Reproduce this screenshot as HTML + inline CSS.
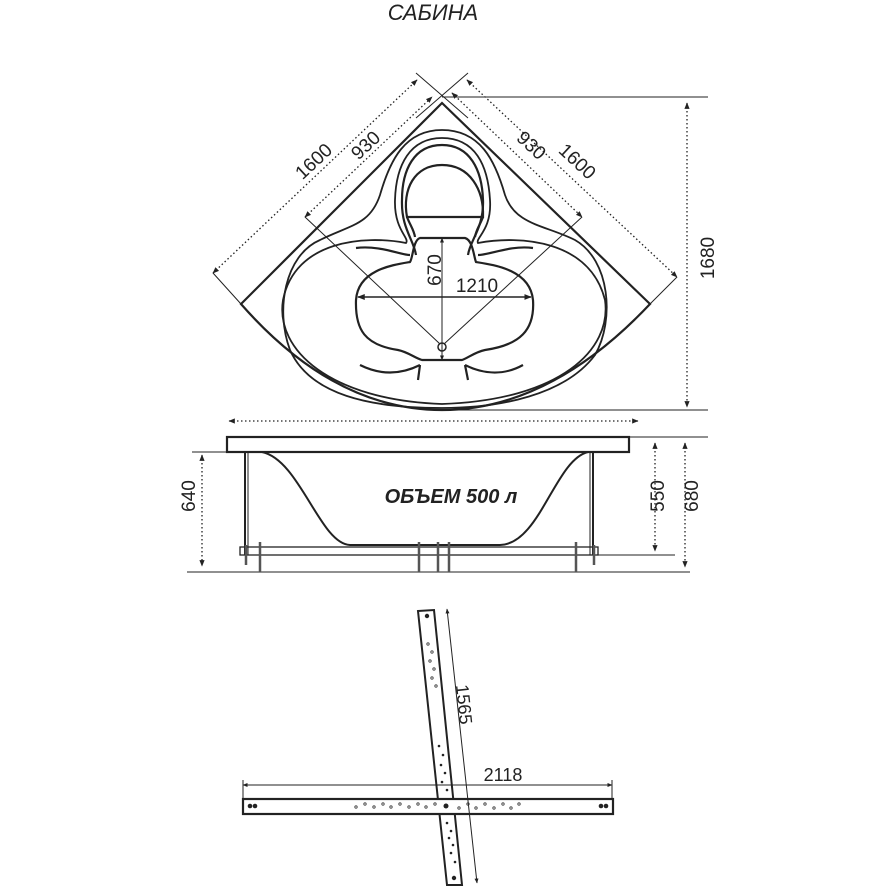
<!DOCTYPE html>
<html><head><meta charset="utf-8">
<style>
html,body{margin:0;padding:0;background:#fff;}
svg{display:block;}
text{font-family:"Liberation Sans",sans-serif;fill:#222;}
</style></head><body>
<svg width="888" height="888" viewBox="0 0 888 888" xmlns="http://www.w3.org/2000/svg">
<defs>
<marker id="ar" viewBox="0 0 10 10" refX="9" refY="5" markerWidth="5" markerHeight="5" orient="auto-start-reverse"><path d="M0,1 L10,5 L0,9 z" fill="#222"/></marker>
</defs>
<text x="433" y="20" font-size="22" font-style="italic" text-anchor="middle">САБИНА</text>

<g fill="none" stroke="#222" stroke-width="2.2">
<path d="M442,103 L650,304 Q550,410 442,410 Q334,410 241,304 Z"/>
<path stroke-width="1.8" d="M442,130 C480,130 495,160 505,195 C515,225 545,225 575,240 C610,260 615,320 595,355 C565,395 500,408 442,408 C370,408 310,395 290,350 C275,310 285,255 320,240 C350,225 370,225 380,195 C390,160 405,130 442,130 Z"/>
<path stroke-width="1.8" d="M442,138 C475,138 488,165 490,200 C492,230 475,238 478,243 C520,235 590,240 605,300 C612,350 560,400 442,404 C330,400 275,350 283,300 C295,240 365,235 406,243 C410,238 394,230 395,200 C396,165 410,138 442,138 Z"/>
<path d="M442,145 C470,145 482,170 483,200 C484,228 470,240 468,255 M416,255 C414,240 401,228 402,200 C402,170 414,145 442,145"/>
<path d="M407,217 L483,217 C484,190 470,165 442,165 C414,165 402,190 407,217 Z"/>
<path d="M407,217 C410,225 414,230 415,237 M483,217 C480,225 476,230 475,237"/>
<path d="M420,238 L465,238 C473,240 474,258 476,262 C495,265 530,270 533,300 C535,330 520,345 485,350 C475,352 468,358 462,360 L422,360 C415,358 408,352 398,350 C365,345 355,330 356,300 C358,270 392,265 410,262 C413,258 413,240 420,238 Z"/>
<path d="M356,248 C380,245 400,255 410,255 M533,248 C510,245 490,255 478,255"/>
<path d="M360,365 C380,375 400,375 420,365 M523,365 C505,375 485,375 465,365"/>
<path d="M420,365 L418,380 M465,365 L468,380"/>
</g>
<circle cx="442" cy="347" r="4" fill="none" stroke="#222" stroke-width="1.5"/>
<g stroke="#222" stroke-width="1" fill="none">
<line x1="305" y1="217" x2="440" y2="344"/>
<line x1="582" y1="217" x2="444" y2="344"/>
<line x1="442" y1="238" x2="442" y2="360" marker-start="url(#ar)" marker-end="url(#ar)"/>
<line x1="358" y1="297" x2="531" y2="297" stroke-width="1.5" marker-start="url(#ar)" marker-end="url(#ar)"/>
<line x1="416" y1="73" x2="468" y2="118"/>
<line x1="468" y1="73" x2="416" y2="118"/>
<line x1="442" y1="97" x2="708" y2="97"/>
<line x1="442" y1="410" x2="708" y2="410"/>
<line x1="213" y1="273" x2="241" y2="304"/>
<line x1="677" y1="277" x2="650" y2="304"/>
</g>
<g stroke="#222" stroke-width="1.3" stroke-dasharray="1.5,2.5" fill="none">
<line x1="213" y1="273" x2="417" y2="80" marker-start="url(#ar)" marker-end="url(#ar)"/>
<line x1="467" y1="80" x2="677" y2="277" marker-start="url(#ar)" marker-end="url(#ar)"/>
<line x1="305" y1="217" x2="432" y2="97" marker-start="url(#ar)" marker-end="url(#ar)"/>
<line x1="452" y1="93" x2="582" y2="217" marker-start="url(#ar)" marker-end="url(#ar)"/>
<line x1="687" y1="103" x2="687" y2="407" marker-start="url(#ar)" marker-end="url(#ar)"/>
<line x1="229" y1="421" x2="638" y2="421" marker-start="url(#ar)" marker-end="url(#ar)"/>
<line x1="202" y1="455" x2="202" y2="566" marker-start="url(#ar)" marker-end="url(#ar)"/>
<line x1="655" y1="443" x2="655" y2="551" marker-start="url(#ar)" marker-end="url(#ar)"/>
<line x1="685" y1="443" x2="685" y2="567" marker-start="url(#ar)" marker-end="url(#ar)"/>
</g>
<g font-size="19">
<text transform="translate(318,166) rotate(-43)" text-anchor="middle">1600</text>
<text transform="translate(370,150) rotate(-43)" text-anchor="middle">930</text>
<text transform="translate(527,150) rotate(43)" text-anchor="middle">930</text>
<text transform="translate(573,166) rotate(43)" text-anchor="middle">1600</text>
<text transform="translate(714,258) rotate(-90)" text-anchor="middle">1680</text>
<text transform="translate(441,270) rotate(-90)" text-anchor="middle">670</text>
<text x="477" y="292" text-anchor="middle">1210</text>
<text transform="translate(195,496) rotate(-90)" text-anchor="middle">640</text>
<text transform="translate(664,496) rotate(-90)" text-anchor="middle">550</text>
<text transform="translate(698,496) rotate(-90)" text-anchor="middle">680</text>
</g>
<text x="451" y="503" font-size="20" font-weight="bold" font-style="italic" text-anchor="middle">ОБЪЕМ 500 л</text>

<g fill="none" stroke="#222">
<rect x="227" y="437" width="402" height="15" stroke-width="2.2"/>
<path d="M262,452 C300,460 320,544 350,545 L500,545 C540,544 555,460 588,452" stroke-width="2"/>
<line x1="245" y1="452" x2="245" y2="555" stroke-width="2"/>
<line x1="248" y1="452" x2="248" y2="555" stroke-width="1"/>
<line x1="593" y1="452" x2="593" y2="555" stroke-width="2"/>
<line x1="590" y1="452" x2="590" y2="555" stroke-width="1"/>
<rect x="240" y="547" width="358" height="8" stroke-width="1.3"/>
<g stroke-width="1">
<line x1="192" y1="452" x2="227" y2="452"/>
<line x1="629" y1="437" x2="708" y2="437"/>
<line x1="598" y1="555" x2="675" y2="555"/>
<line x1="187" y1="572" x2="690" y2="572"/>
</g>
<g stroke="#555" stroke-width="2.5">
<line x1="260" y1="542" x2="260" y2="572"/>
<line x1="419" y1="542" x2="419" y2="572"/>
<line x1="438" y1="542" x2="438" y2="572"/>
<line x1="449" y1="542" x2="449" y2="572"/>
<line x1="576" y1="542" x2="576" y2="572"/>
<line x1="246" y1="545" x2="246" y2="565"/>
<line x1="594" y1="545" x2="594" y2="565"/>
</g>
</g>

<g fill="none" stroke="#222">
<polygon points="418,611 434,610 462,885 447,885" fill="#fff" stroke-width="2"/>
<rect x="243" y="799" width="370" height="15" fill="#fff" stroke-width="2.2"/>
<line x1="447" y1="609" x2="477" y2="883" stroke-width="1" marker-start="url(#ar)" marker-end="url(#ar)"/>
<line x1="243" y1="785" x2="612" y2="785" stroke-width="1" marker-start="url(#ar)" marker-end="url(#ar)"/>
<line x1="612" y1="780" x2="612" y2="799" stroke-width="1"/>
<line x1="243" y1="780" x2="243" y2="799" stroke-width="1"/>
</g>
<g fill="#222">
<circle cx="250" cy="806" r="2.3"/><circle cx="255" cy="806" r="2.3"/>
<circle cx="601" cy="806" r="2.3"/><circle cx="606" cy="806" r="2.3"/>
<circle cx="446" cy="806" r="2.5"/>
<circle cx="427" cy="616" r="2.2"/><circle cx="454" cy="878" r="2.2"/>
<circle cx="439" cy="746" r="1.3"/><circle cx="443" cy="755" r="1.3"/><circle cx="441" cy="765" r="1.3"/><circle cx="445" cy="773" r="1.3"/><circle cx="442" cy="782" r="1.3"/><circle cx="447" cy="790" r="1.3"/>
<circle cx="447" cy="823" r="1.3"/><circle cx="451" cy="831" r="1.3"/><circle cx="449" cy="838" r="1.3"/><circle cx="453" cy="845" r="1.3"/><circle cx="451" cy="853" r="1.3"/><circle cx="455" cy="862" r="1.3"/>
</g>
<g fill="none" stroke="#333" stroke-width="0.8">
<circle cx="356" cy="807" r="1.2"/><circle cx="365" cy="804" r="1.2"/><circle cx="374" cy="807" r="1.2"/><circle cx="383" cy="804" r="1.2"/><circle cx="391" cy="807" r="1.2"/><circle cx="400" cy="804" r="1.2"/><circle cx="409" cy="807" r="1.2"/><circle cx="418" cy="804" r="1.2"/><circle cx="426" cy="807" r="1.2"/><circle cx="435" cy="804" r="1.2"/>
<circle cx="459" cy="808" r="1.2"/><circle cx="468" cy="804" r="1.2"/><circle cx="476" cy="808" r="1.2"/><circle cx="485" cy="804" r="1.2"/><circle cx="494" cy="808" r="1.2"/><circle cx="503" cy="804" r="1.2"/><circle cx="511" cy="808" r="1.2"/><circle cx="519" cy="804" r="1.2"/>
<circle cx="428" cy="644" r="1.2"/><circle cx="432" cy="652" r="1.2"/><circle cx="430" cy="661" r="1.2"/><circle cx="434" cy="669" r="1.2"/><circle cx="432" cy="678" r="1.2"/><circle cx="436" cy="686" r="1.2"/>
</g>
<text x="503" y="781" font-size="18" text-anchor="middle">2118</text>
<text transform="translate(458,705) rotate(84)" font-size="18" text-anchor="middle">1565</text>
</svg>
</body></html>
